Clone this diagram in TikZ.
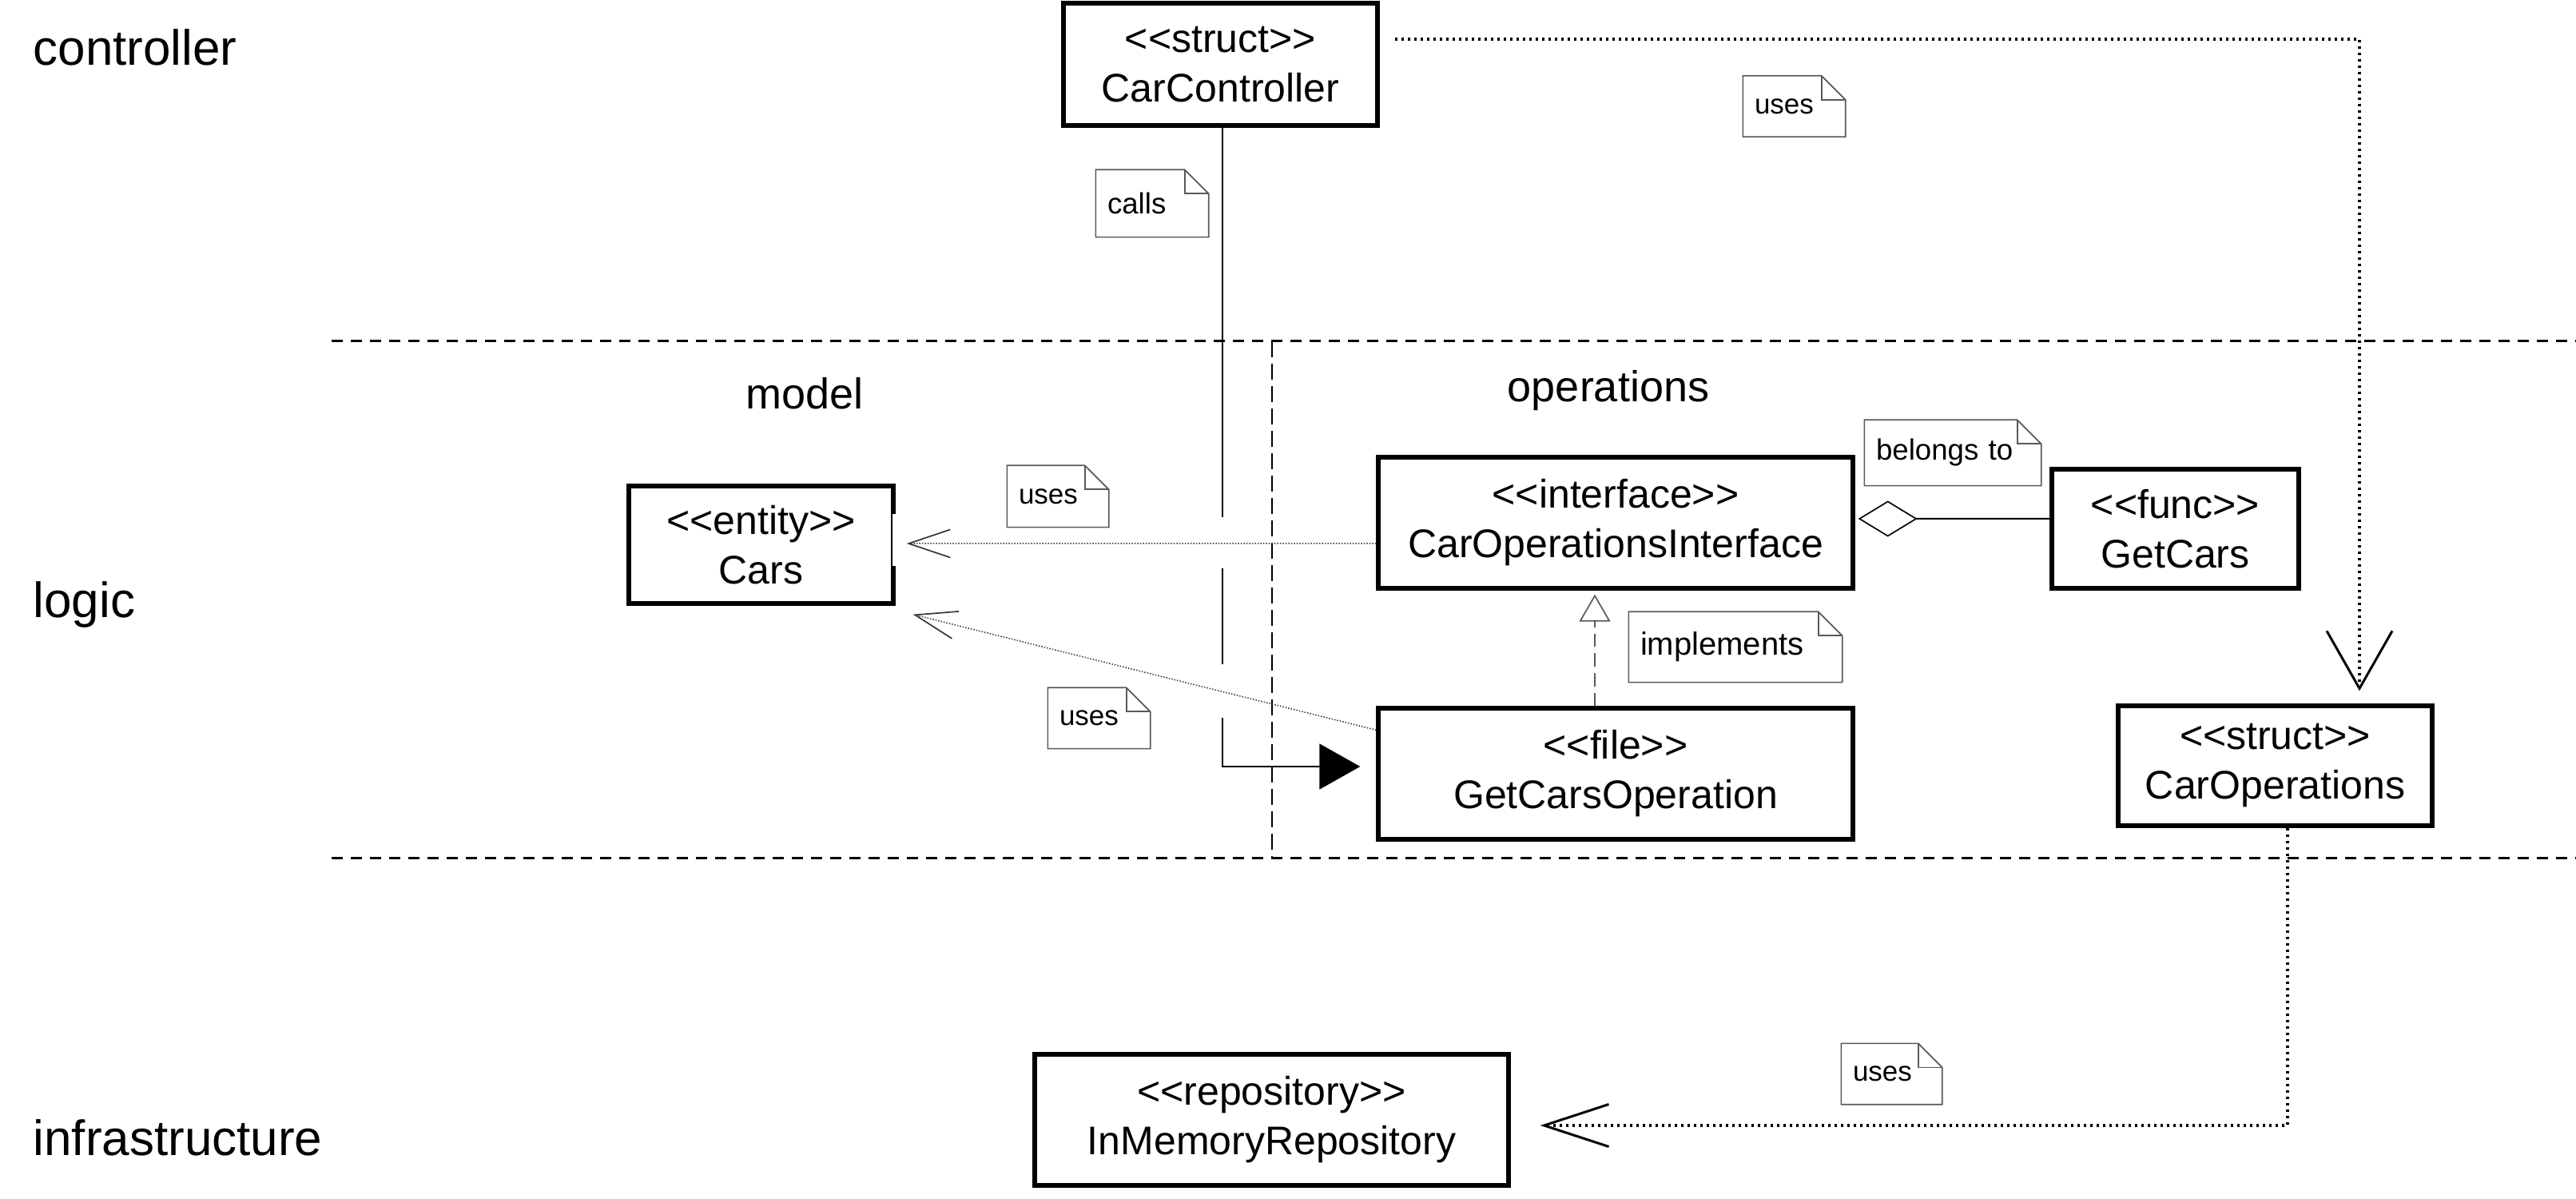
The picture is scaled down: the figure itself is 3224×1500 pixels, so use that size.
\documentclass[tikz,border=0pt]{standalone}
\usepackage{fontspec}
\setmainfont{Liberation Sans}[Ligatures=TeXOff]
\usetikzlibrary{arrows.meta}
\newcommand{\stereo}[1]{<\kern0pt<#1>\kern0pt>}
\begin{document}
\begin{tikzpicture}[x=0.3pt,y=-0.3pt,
  box/.style={draw, line width=1.6pt, align=center, inner sep=0pt, font=\fontsize{15}{18.6}\selectfont},
  layerlabel/.style={anchor=base west, inner sep=0pt, font=\fontsize{18.6}{22}\selectfont},
  pkglabel/.style={anchor=base, inner sep=0pt, font=\fontsize{16.2}{19}\selectfont},
  note/.style={inner xsep=4.2pt, inner ysep=0pt, align=left, font=\fontsize{11}{13}\selectfont},
  usesfont/.style={font=\fontsize{10.5}{13}\selectfont},
  noteline/.style={draw=black!65, line width=0.5pt},
  layerline/.style={line width=0.9pt, dash pattern=on 4.2pt off 3pt},
  pkgline/.style={line width=0.6pt, dash pattern=on 6pt off 2.4pt},
  dotthick/.style={line width=1.1pt, dash pattern=on 1pt off 1.4pt},
  dotthin/.style={draw=black!80, line width=0.45pt, dash pattern=on 0.45pt off 0.6pt},
  callsline/.style={line width=0.5pt, dash pattern=on 146.1pt off 19.2pt on 36pt off 20.1pt on 1000pt off 1pt},
  implline/.style={draw=black!65, line width=0.6pt, dash pattern=on 5pt off 2.4pt},
  aggline/.style={line width=0.6pt}
]
\useasboundingbox (0,0) rectangle (3224,1500);

% layer separators and package border
\draw[layerline] (415,427) -- (3224,427);
\draw[layerline] (415,1074) -- (3224,1074);
\draw[pkgline] (1592,427) -- (1592,1074);

% layer and package labels
\node[layerlabel] (lcontroller) at (41,82) {controller};
\node[layerlabel] (llogic) at (41,773) {logic};
\node[layerlabel] (linfra) at (41,1445) {infrastructure};
\node[pkglabel] (lmodel) at (1007,512) {model};
\node[pkglabel] (lops) at (2013,503) {operations};

% classes
\node[box, minimum width=117.9pt, minimum height=45.9pt] (CC) at (1527.5,80.5) {\stereo{struct}\\CarController};
\node[box, minimum width=99.3pt, minimum height=44.1pt] (Cars) at (952.5,681.5) {\stereo{entity}\\Cars};
\node[box, minimum width=178.2pt, minimum height=49.2pt] (COI) at (2022,654) {\stereo{interface}\\CarOperationsInterface};
\node[box, minimum width=92.7pt, minimum height=44.7pt] (GetCars) at (2722.5,661.5) {\stereo{func}\\GetCars};
\node[box, minimum width=178.2pt, minimum height=49.2pt] (GCO) at (2022,968) {\stereo{file}\\GetCarsOperation};
\node[box, minimum width=117.9pt, minimum height=45pt] (CarOps) at (2847.5,958) {\stereo{struct}\\CarOperations};
\node[box, minimum width=177.9pt, minimum height=49.2pt] (InMem) at (1591.5,1401) {\stereo{repository}\\InMemoryRepository};

% gap in the right border of Cars
\draw[white, line width=2.2pt] ([yshift=11.55pt]Cars.east) -- ([yshift=-7.95pt]Cars.east);

% notes
\node[note, usesfont, text width=29.7pt, minimum height=22.5pt] (nUses1) at (2245.5,133) {uses};
\node[note, text width=33.6pt, minimum height=24.9pt] (nCalls) at (1442,254.5) {calls};
\node[note, usesfont, text width=29.4pt, minimum height=22.8pt] (nUses2) at (1324,621) {uses};
\node[note, usesfont, text width=29.7pt, minimum height=22.5pt] (nUses3) at (1375.5,898.5) {uses};
\node[note, text width=57.6pt, minimum height=24.3pt] (nBelongs) at (2444,566.5) {belongs to};
\node[note, font=\fontsize{12}{14}\selectfont, text width=71.4pt, minimum height=26.1pt] (nImpl) at (2172,809.5) {implements};
\node[note, usesfont, text width=29.1pt, minimum height=22.5pt] (nUses4) at (2367.5,1343.5) {uses};
\foreach \n in {nUses1,nCalls,nUses2,nUses3,nBelongs,nImpl,nUses4}{
  \draw[noteline] (\n.south west) -- (\n.north west) -- ([xshift=-9pt]\n.north east)
    -- ([yshift=-9pt]\n.north east) -- (\n.south east) -- cycle;
  \draw[noteline] ([xshift=-9pt]\n.north east) |- ([yshift=-9pt]\n.north east);
}

% connectors
\draw[callsline, -{Triangle[length=15.3pt, width=17.1pt]}]
  ([xshift=0.75pt]CC.south) |- ([xshift=-6pt,yshift=2.7pt]GCO.west);
\draw[dotthin, -{Straight Barb[length=15.6pt, width=10.5pt, line width=0.5pt]}]
  ([yshift=-7.8pt]COI.west) -- ([xshift=4.2pt,yshift=0.45pt]Cars.east);
\draw[dotthin, -{Straight Barb[length=15.6pt, width=10.5pt, line width=0.5pt]}]
  ([yshift=-9pt]GCO.north west) -- ([xshift=6.6pt,yshift=-3.3pt]Cars.south east);
\draw[implline, -{Triangle[open, length=10.2pt, width=11.7pt, line width=0.5pt]}]
  ([xshift=-7.8pt]GCO.north) -- ([xshift=-7.8pt,yshift=-1.5pt]COI.south);
\draw[aggline, {Diamond[open, length=22.2pt, width=13.5pt, line width=0.5pt]}-]
  ([xshift=1.2pt,yshift=1.5pt]COI.east) -- ([yshift=3.75pt]GetCars.west);
\draw[dotthick, -{Straight Barb[length=21.6pt, width=24.6pt, line width=0.9pt]}]
  ([xshift=5.7pt,yshift=-14.4pt]CC.north east) -| ([xshift=31.65pt,yshift=4.8pt]CarOps.north);
\draw[dotthick, -{Straight Barb[length=24.3pt, width=15.9pt, line width=0.9pt]}]
  ([xshift=4.65pt]CarOps.south) |- ([xshift=11.1pt,yshift=-2.1pt]InMem.east);
\end{tikzpicture}
\end{document}
